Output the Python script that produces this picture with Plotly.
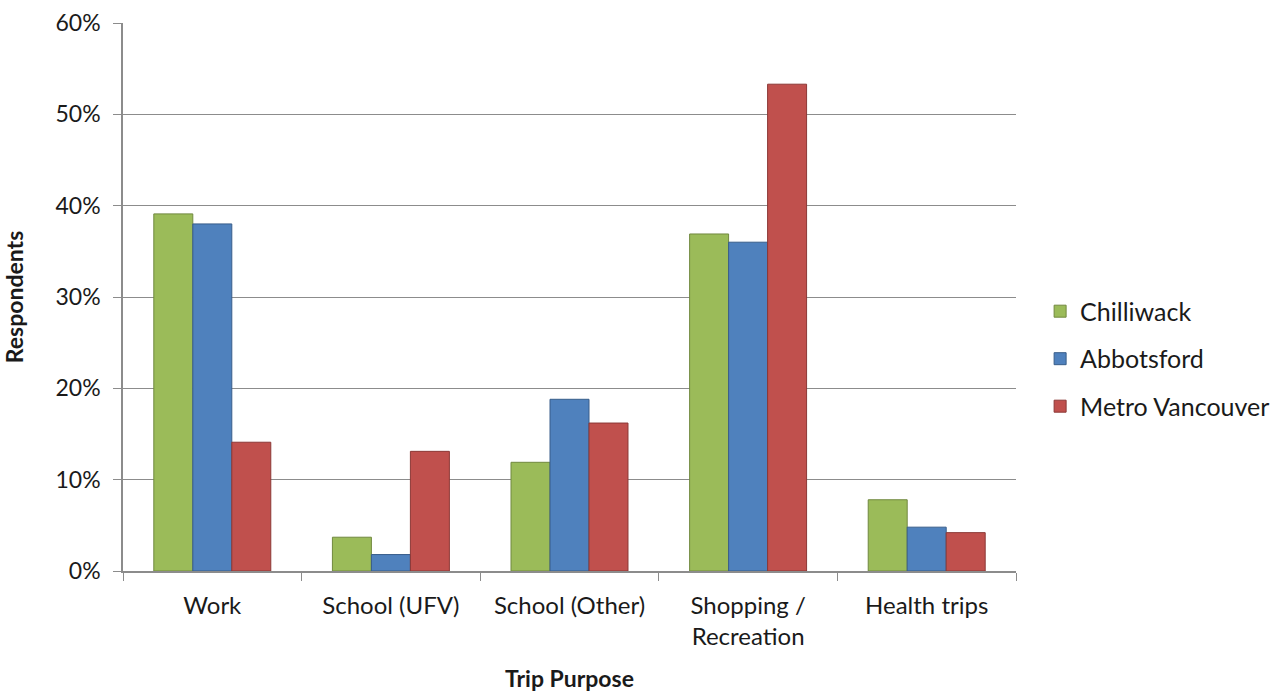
import plotly.graph_objects as go

# Share of respondents by trip purpose and home region
categories = ["Work", "School (UFV)", "School (Other)", "Shopping /<br>Recreation", "Health trips"]
chilliwack = [0.391, 0.037, 0.119, 0.369, 0.078]
abbotsford = [0.380, 0.018, 0.188, 0.360, 0.048]
metro_vancouver = [0.141, 0.131, 0.162, 0.533, 0.042]

series = [
    ("Chilliwack", chilliwack, "#9BBB59", "#71893F"),
    ("Abbotsford", abbotsford, "#4F81BD", "#385D8A"),
    ("Metro Vancouver", metro_vancouver, "#C0504D", "#8C3836"),
]

FONT = "Lato, 'Open Sans', Arial, sans-serif"
GRID = "#8C8C8C"
TEXT = "#1a1a1a"

fig = go.Figure()
for i, (name, vals, fill, edge) in enumerate(series):
    fig.add_trace(go.Bar(
        name=name,
        x=categories,
        y=vals,
        marker=dict(color=fill, line=dict(color=edge, width=1)),
        legendgroup=f"g{i}",
        hovertemplate="%{x}: %{y:.1%}<extra>" + name + "</extra>",
    ))

fig.update_layout(
    width=1285,
    height=692,
    margin=dict(l=123, r=269, t=23, b=121, autoexpand=False),
    paper_bgcolor="white",
    plot_bgcolor="white",
    barmode="group",
    bargap=0.345,
    bargroupgap=0,
    font=dict(family=FONT, size=22, color=TEXT),
    legend=dict(
        x=1.027, y=0.387, xanchor="left", yanchor="middle",
        font=dict(size=25, color=TEXT),
        tracegroupgap=12,
        itemwidth=30,
        bgcolor="rgba(0,0,0,0)",
    ),
    xaxis=dict(
        type="category",
        automargin=False,
        showline=True, linecolor=GRID, linewidth=1.5,
        ticks="outside", ticklen=8, tickcolor=GRID, tickson="boundaries",
        tickfont=dict(size=24),
        ticklabelstandoff=12,
        title=dict(text="<b>Trip Purpose</b>", font=dict(size=23), standoff=22),
    ),
    yaxis=dict(
        range=[0, 0.6], dtick=0.1, tickformat=".0%",
        automargin=False,
        showline=True, linecolor=GRID, linewidth=1.5,
        ticks="outside", ticklen=8, tickcolor=GRID,
        showgrid=True, gridcolor=GRID, gridwidth=1.2,
        zeroline=False,
        tickfont=dict(size=23),
        ticklabelstandoff=8,
        title=dict(text="<b>Respondents</b>", font=dict(size=23), standoff=28),
    ),
)

fig.write_html("out.html")
